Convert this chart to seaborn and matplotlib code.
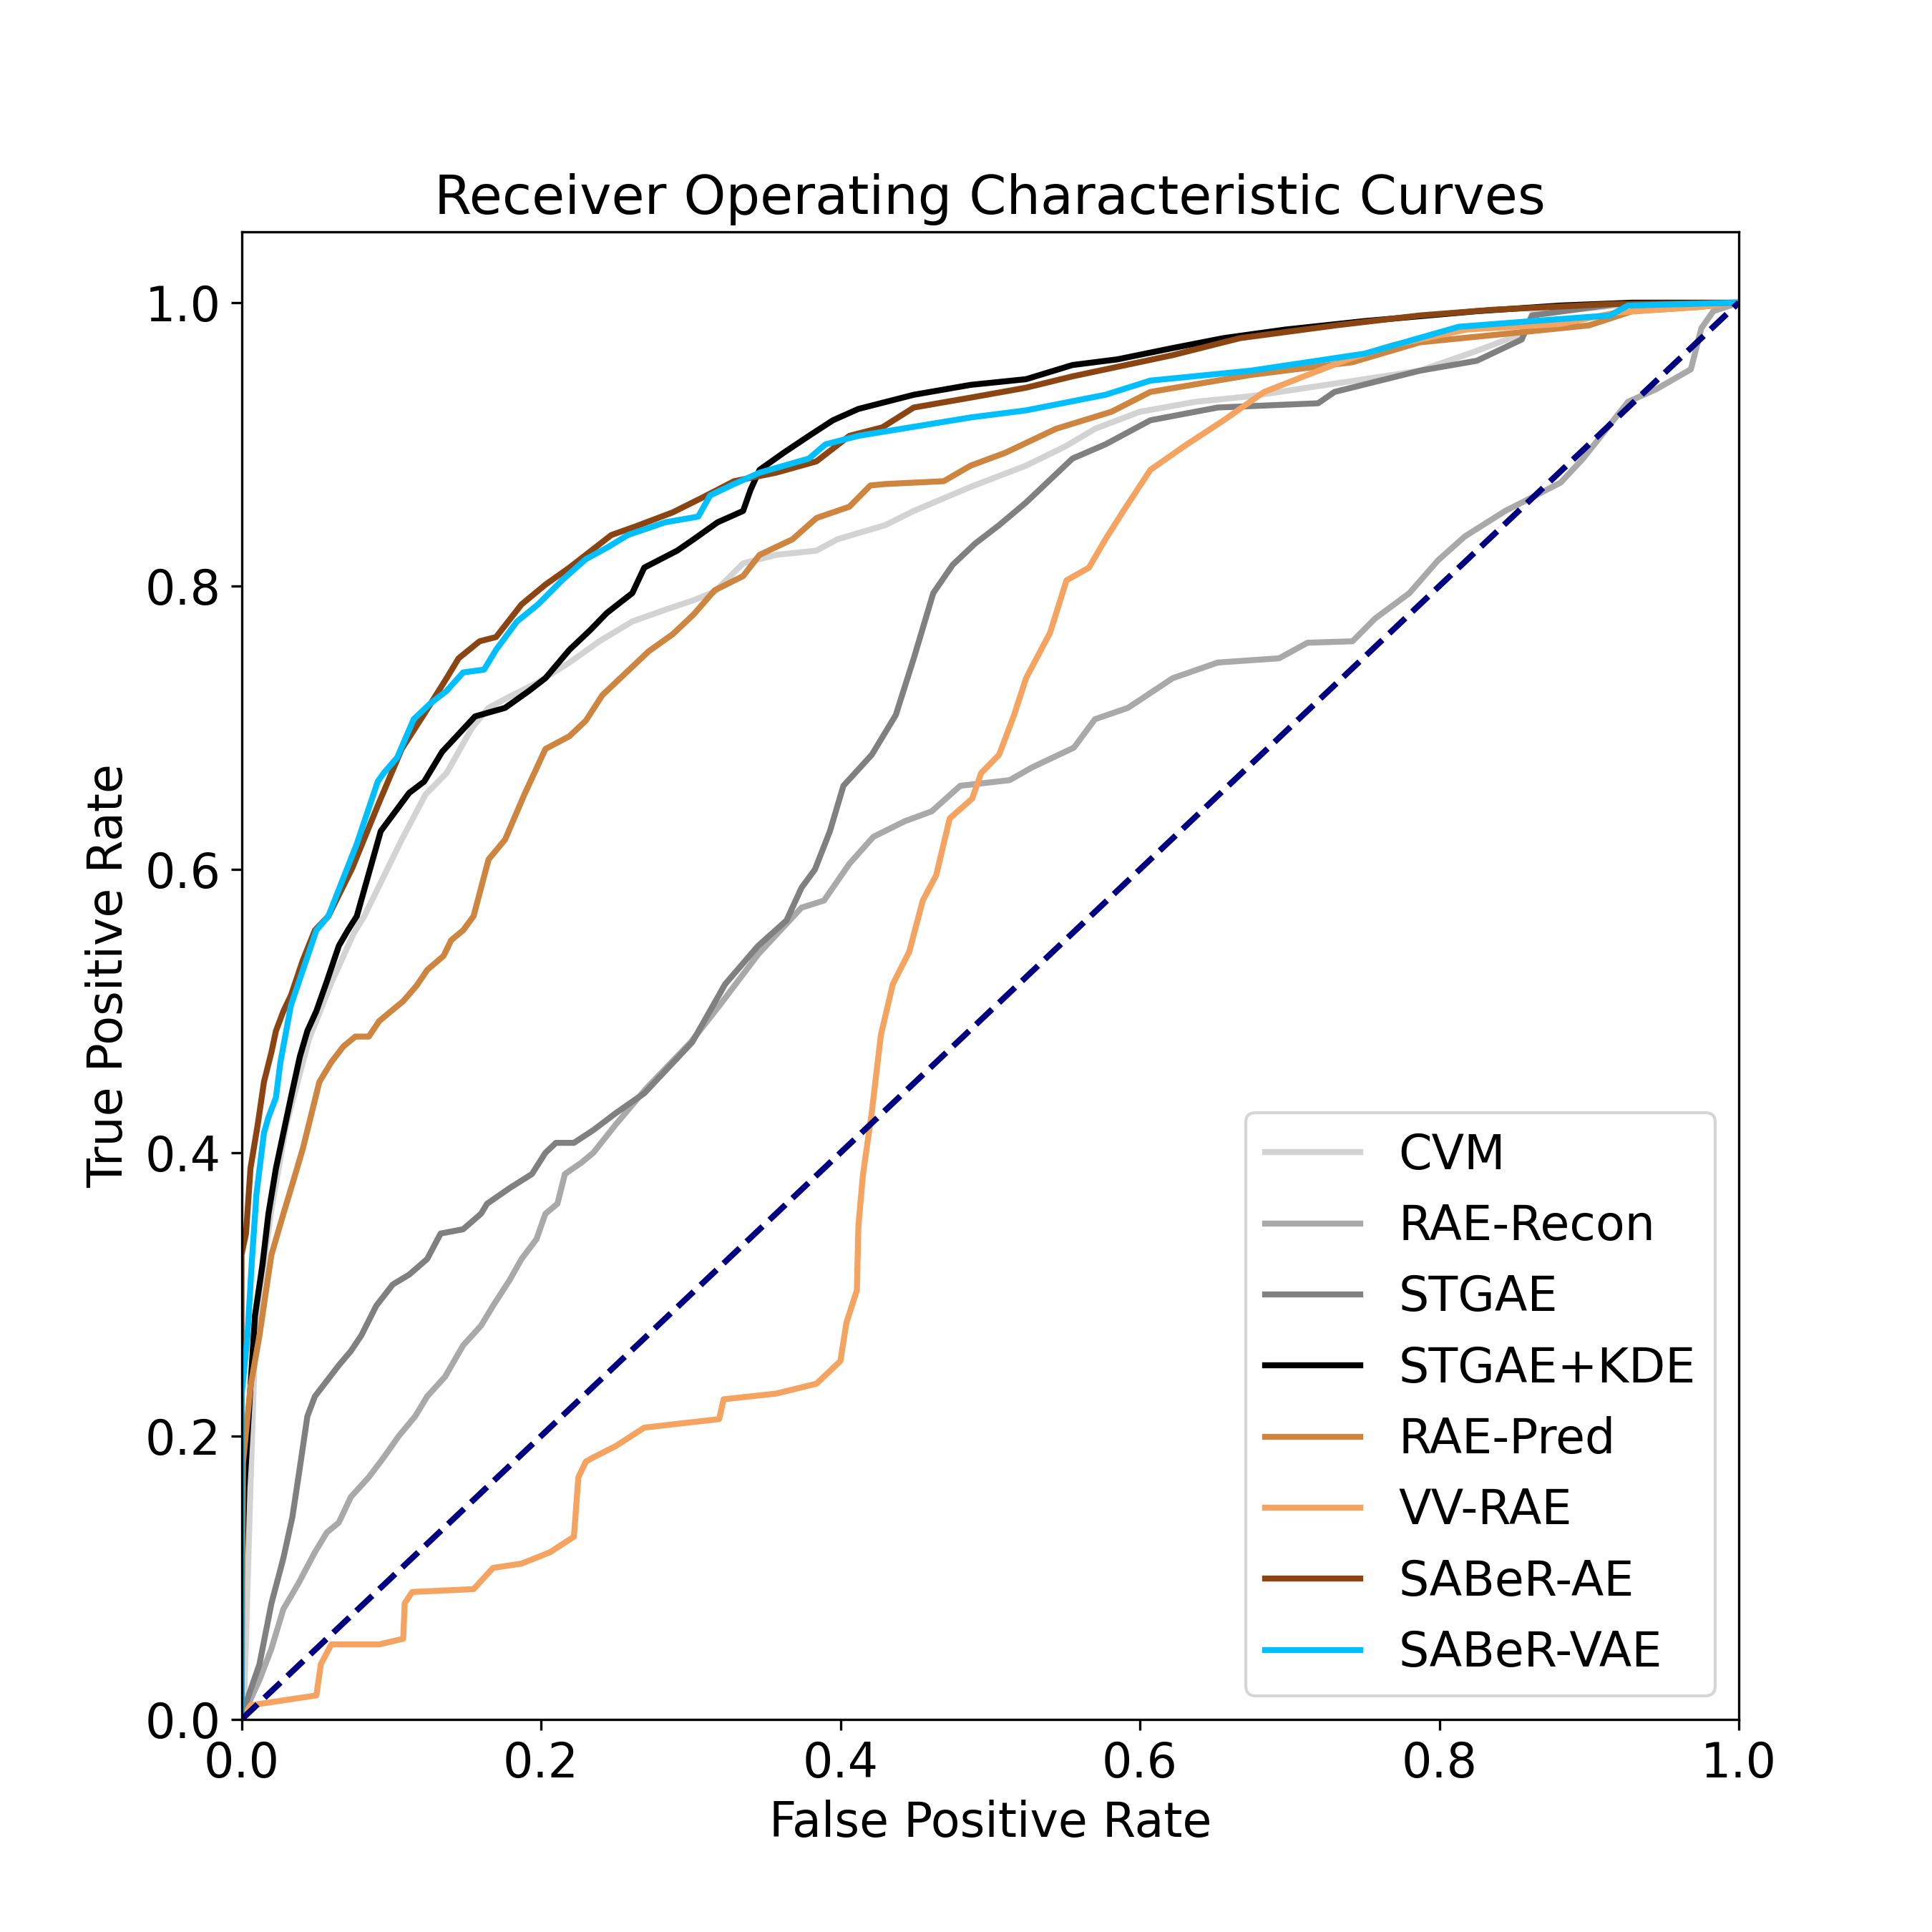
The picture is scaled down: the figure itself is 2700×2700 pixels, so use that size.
import matplotlib
matplotlib.use("Agg")
import matplotlib.pyplot as plt
import seaborn as sns
import pandas as pd

# ROC points
cvm_fpr = [0.0, 0.002, 0.004, 0.006, 0.009, 0.012, 0.02, 0.03, 0.045, 0.06, 0.075, 0.082, 0.107, 0.123, 0.137,
           0.154, 0.165, 0.181, 0.198, 0.219, 0.239, 0.261, 0.285, 0.302, 0.316, 0.335, 0.357, 0.384, 0.398,
           0.43, 0.449, 0.487, 0.524, 0.551, 0.57, 0.6, 0.637, 0.674, 0.75, 0.787, 0.825, 0.855, 0.862, 0.918, 1.0]
cvm_tpr = [0.0, 0.021, 0.093, 0.164, 0.264, 0.30, 0.36, 0.42, 0.48, 0.52, 0.555, 0.567, 0.621, 0.653, 0.668,
           0.70, 0.714, 0.723, 0.732, 0.746, 0.761, 0.775, 0.784, 0.79, 0.796, 0.816, 0.822, 0.825, 0.833,
           0.843, 0.853, 0.87, 0.885, 0.899, 0.911, 0.923, 0.93, 0.934, 0.946, 0.952, 0.966, 0.978, 0.992, 0.998, 1.0]

recon_fpr = [0.0, 0.0025, 0.012, 0.02, 0.028, 0.038, 0.049, 0.057, 0.065, 0.073, 0.085, 0.095, 0.105, 0.116,
             0.124, 0.136, 0.148, 0.16, 0.168, 0.179, 0.187, 0.197, 0.203, 0.211, 0.216, 0.227, 0.235, 0.25,
             0.27, 0.30, 0.32, 0.345, 0.374, 0.389, 0.406, 0.422, 0.443, 0.461, 0.48, 0.513, 0.528, 0.556,
             0.57, 0.592, 0.622, 0.652, 0.693, 0.712, 0.742, 0.757, 0.78, 0.799, 0.817, 0.844, 0.859, 0.881,
             0.896, 0.911, 0.926, 0.945, 0.968, 0.975, 0.983, 1.0]
recon_tpr = [0.0, 0.006, 0.028, 0.05, 0.078, 0.096, 0.118, 0.132, 0.139, 0.157, 0.171, 0.185, 0.2, 0.214,
             0.228, 0.242, 0.264, 0.278, 0.292, 0.31, 0.325, 0.339, 0.357, 0.364, 0.385, 0.393, 0.40, 0.42,
             0.445, 0.478, 0.505, 0.54, 0.573, 0.578, 0.604, 0.623, 0.634, 0.641, 0.659, 0.663, 0.672, 0.686,
             0.706, 0.714, 0.735, 0.746, 0.749, 0.76, 0.761, 0.777, 0.795, 0.818, 0.835, 0.853, 0.861, 0.873,
             0.89, 0.91, 0.93, 0.939, 0.953, 0.982, 0.994, 1.0]

stgae_fpr = [0.0, 0.0025, 0.012, 0.02, 0.028, 0.034, 0.039, 0.044, 0.049, 0.057, 0.065, 0.073, 0.08, 0.09,
             0.101, 0.112, 0.124, 0.133, 0.148, 0.16, 0.164, 0.179, 0.194, 0.203, 0.21, 0.222, 0.235, 0.25,
             0.269, 0.301, 0.323, 0.345, 0.364, 0.374, 0.383, 0.393, 0.402, 0.421, 0.437, 0.449, 0.462, 0.475,
             0.49, 0.506, 0.524, 0.555, 0.577, 0.607, 0.652, 0.719, 0.73, 0.787, 0.825, 0.855, 0.862, 0.918, 1.0]
stgae_tpr = [0.0, 0.01, 0.039, 0.082, 0.114, 0.143, 0.178, 0.214, 0.228, 0.239, 0.25, 0.26, 0.271, 0.292,
             0.307, 0.314, 0.325, 0.343, 0.346, 0.357, 0.364, 0.375, 0.385, 0.40, 0.407, 0.407, 0.416, 0.428,
             0.442, 0.478, 0.519, 0.546, 0.564, 0.587, 0.60, 0.627, 0.659, 0.681, 0.709, 0.749, 0.795, 0.815,
             0.83, 0.843, 0.859, 0.89, 0.90, 0.917, 0.926, 0.929, 0.937, 0.952, 0.959, 0.974, 0.991, 0.999, 1.0]

kde_fpr = [0.0, 0.0, 0.002, 0.006, 0.009, 0.014, 0.018, 0.023, 0.028, 0.033, 0.039, 0.044, 0.05, 0.057,
           0.065, 0.071, 0.077, 0.093, 0.112, 0.122, 0.134, 0.156, 0.176, 0.192, 0.203, 0.219, 0.233, 0.244,
           0.261, 0.269, 0.291, 0.302, 0.318, 0.335, 0.34, 0.346, 0.362, 0.379, 0.395, 0.412, 0.449, 0.487,
           0.524, 0.555, 0.585, 0.622, 0.656, 0.697, 0.75, 0.825, 0.881, 0.929, 1.0]
kde_tpr = [0.0, 0.093, 0.164, 0.235, 0.285, 0.321, 0.357, 0.389, 0.414, 0.439, 0.468, 0.486, 0.50, 0.521,
           0.546, 0.557, 0.567, 0.627, 0.654, 0.662, 0.683, 0.708, 0.714, 0.726, 0.735, 0.755, 0.769, 0.781,
           0.795, 0.813, 0.825, 0.833, 0.845, 0.853, 0.868, 0.882, 0.894, 0.906, 0.917, 0.925, 0.935, 0.942,
           0.946, 0.956, 0.96, 0.968, 0.975, 0.981, 0.987, 0.994, 0.998, 1.0, 1.0]

pred_fpr = [0.0, 0.001, 0.006, 0.009, 0.012, 0.017, 0.02, 0.028, 0.034, 0.041, 0.052, 0.06, 0.068, 0.076,
            0.085, 0.092, 0.108, 0.117, 0.124, 0.135, 0.14, 0.148, 0.155, 0.165, 0.176, 0.189, 0.203, 0.219,
            0.23, 0.241, 0.255, 0.272, 0.288, 0.302, 0.316, 0.335, 0.346, 0.368, 0.384, 0.406, 0.42, 0.43,
            0.469, 0.487, 0.51, 0.544, 0.581, 0.607, 0.674, 0.742, 0.787, 0.844, 0.90, 0.929, 0.974, 1.0]
pred_tpr = [0.0, 0.181, 0.235, 0.253, 0.271, 0.307, 0.328, 0.357, 0.378, 0.403, 0.45, 0.464, 0.475, 0.482,
            0.482, 0.493, 0.507, 0.518, 0.529, 0.539, 0.55, 0.557, 0.567, 0.607, 0.621, 0.653, 0.685, 0.694,
            0.705, 0.723, 0.737, 0.754, 0.766, 0.78, 0.797, 0.807, 0.822, 0.833, 0.848, 0.856, 0.871, 0.872,
            0.874, 0.885, 0.894, 0.911, 0.923, 0.937, 0.949, 0.958, 0.972, 0.978, 0.984, 0.994, 0.997, 1.0]

vv_fpr = [0.0, 0.006, 0.05, 0.053, 0.06, 0.092, 0.108, 0.109, 0.114, 0.155, 0.168, 0.187, 0.206, 0.222,
          0.225, 0.23, 0.235, 0.25, 0.269, 0.319, 0.322, 0.357, 0.384, 0.40, 0.404, 0.411, 0.412, 0.415,
          0.421, 0.427, 0.435, 0.446, 0.455, 0.464, 0.473, 0.488, 0.494, 0.506, 0.516, 0.524, 0.54, 0.551,
          0.566, 0.577, 0.589, 0.607, 0.63, 0.656, 0.683, 0.712, 0.739, 0.769, 0.818, 0.881, 0.918, 0.974, 1.0]
vv_tpr = [0.0, 0.01, 0.017, 0.039, 0.053, 0.053, 0.057, 0.082, 0.09, 0.092, 0.107, 0.11, 0.118, 0.129,
          0.171, 0.182, 0.185, 0.193, 0.206, 0.212, 0.226, 0.23, 0.237, 0.253, 0.28, 0.303, 0.348, 0.384,
          0.429, 0.483, 0.519, 0.542, 0.578, 0.596, 0.636, 0.65, 0.668, 0.681, 0.709, 0.735, 0.767, 0.804,
          0.813, 0.833, 0.853, 0.882, 0.899, 0.917, 0.937, 0.949, 0.96, 0.97, 0.981, 0.985, 0.993, 0.997, 1.0]

ae_fpr = [0.0, 0.0, 0.003, 0.006, 0.011, 0.015, 0.02, 0.023, 0.028, 0.033, 0.041, 0.049, 0.058, 0.074,
          0.091, 0.099, 0.107, 0.121, 0.137, 0.145, 0.159, 0.17, 0.187, 0.203, 0.219, 0.247, 0.263, 0.288,
          0.307, 0.329, 0.357, 0.384, 0.406, 0.428, 0.449, 0.487, 0.524, 0.555, 0.622, 0.667, 0.731, 0.787,
          0.836, 0.914, 1.0]
ae_tpr = [0.0, 0.328, 0.343, 0.389, 0.421, 0.45, 0.471, 0.486, 0.50, 0.511, 0.536, 0.557, 0.567, 0.601,
          0.645, 0.665, 0.685, 0.708, 0.735, 0.749, 0.761, 0.764, 0.787, 0.801, 0.813, 0.836, 0.842, 0.852,
          0.862, 0.874, 0.88, 0.888, 0.906, 0.912, 0.926, 0.933, 0.94, 0.948, 0.963, 0.975, 0.984, 0.991,
          0.995, 0.999, 1.0]

vae_fpr = [0.0, 0.0, 0.004, 0.007, 0.01, 0.015, 0.018, 0.023, 0.026, 0.033, 0.041, 0.05, 0.058, 0.077,
           0.091, 0.095, 0.104, 0.115, 0.126, 0.137, 0.148, 0.162, 0.17, 0.184, 0.198, 0.214, 0.23, 0.244,
           0.258, 0.283, 0.305, 0.313, 0.329, 0.346, 0.379, 0.39, 0.412, 0.487, 0.524, 0.577, 0.607, 0.674,
           0.75, 0.813, 0.862, 0.914, 0.926, 1.0]
vae_tpr = [0.0, 0.228, 0.271, 0.325, 0.371, 0.414, 0.425, 0.439, 0.464, 0.504, 0.529, 0.557, 0.567, 0.618,
           0.662, 0.668, 0.679, 0.706, 0.717, 0.726, 0.739, 0.741, 0.755, 0.775, 0.787, 0.804, 0.819, 0.827,
           0.836, 0.845, 0.849, 0.864, 0.872, 0.88, 0.89, 0.90, 0.906, 0.919, 0.924, 0.935, 0.945, 0.952,
           0.964, 0.983, 0.987, 0.991, 0.998, 1.0]

models = ["CVM", "RAE-Recon", "STGAE", "STGAE+KDE", "RAE-Pred", "VV-RAE", "SABeR-AE", "SABeR-VAE"]
fprs = [cvm_fpr, recon_fpr, stgae_fpr, kde_fpr, pred_fpr, vv_fpr, ae_fpr, vae_fpr]
tprs = [cvm_tpr, recon_tpr, stgae_tpr, kde_tpr, pred_tpr, vv_tpr, ae_tpr, vae_tpr]
colors = ["lightgray", "darkgray", "gray", "black", "peru", "sandybrown", "saddlebrown", "deepskyblue"]

plt.rcParams["font.size"] = 16

fig, ax = plt.subplots(figsize=(9, 9), dpi=300)

for name, fpr, tpr, c in zip(models, fprs, tprs, colors):
    df = pd.DataFrame({"fpr": fpr, "tpr": tpr})
    sns.lineplot(data=df, x="fpr", y="tpr", sort=False, estimator=None,
                 color=c, lw=2, label=name, ax=ax)

# chance line
ax.plot([0, 1], [0, 1], color="navy", lw=2, linestyle="--")

ax.set_xlim([0.0, 1.0])
ax.set_ylim([0.0, 1.05])
ax.set_xlabel("False Positive Rate")
ax.set_ylabel("True Positive Rate")
ax.set_title("Receiver Operating Characteristic Curves", fontsize=18)
ax.legend(loc="lower right")

fig.savefig("out.png", dpi=300)
